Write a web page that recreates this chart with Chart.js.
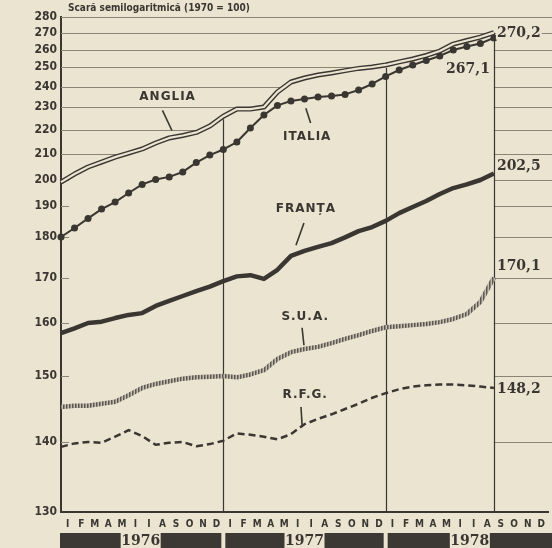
<!DOCTYPE html>
<html><head><meta charset="utf-8">
<script src="https://cdn.jsdelivr.net/npm/chart.js"></script>
<style>html,body{margin:0;padding:0;background:#ebe4d1;}canvas{display:block;}</style>
</head><body>
<canvas id="c" width="552" height="548"></canvas>
<script>
// ---- data ----
const MONTH_LABELS = ['I','F','M','A','M','I','I','A','S','O','N','D'];
const YEARS = ['1976','1977','1978'];
const Y_TICKS = [130,140,150,160,170,180,190,200,210,220,230,240,250,260,270,280];
// relative height of each tick on the hand-drawn semilog axis (0 = bottom, 1 = top)
const AXIS_FRAC = [0,0.1414,0.2747,0.3818,0.4727,0.5556,0.6182,0.6707,0.7232,0.7717,0.8182,0.8586,0.8990,0.9333,0.9677,1];
const TITLE = 'Scară semilogaritmică (1970 = 100)';

// monthly values, Jan 1976 (index 0) .. Aug 1978 (index 32)
const ANGLIA = [199.2,202.3,205.0,206.9,208.8,210.4,212.1,214.6,216.7,217.7,219.0,221.7,226.0,229.1,229.1,230.0,237.5,242.5,244.5,246.0,247.0,248.2,249.3,250.0,251.2,253.0,254.7,256.8,259.4,263.5,265.6,267.6,270.2];
const ITALIA = [180.0,182.9,186.0,189.0,191.5,195.0,198.3,200.2,201.2,203.1,206.7,209.6,211.9,215.0,220.9,226.5,230.8,233.0,234.0,235.0,235.5,236.3,238.5,241.5,245.3,248.5,251.2,253.8,256.5,260.0,262.1,263.8,267.1];
const FRANTA = [158.1,159.0,160.0,160.3,161.1,161.8,162.2,163.8,164.9,166.0,167.1,168.1,169.3,170.4,170.7,169.8,172.0,175.4,176.6,177.6,178.5,179.9,181.9,183.2,185.2,187.7,189.7,191.9,194.6,196.9,198.3,200.0,202.5];
const SUA = [145.3,145.5,145.5,145.8,146.1,147.1,148.2,148.8,149.2,149.6,149.8,149.9,150.0,149.8,150.3,151.1,153.2,154.5,155.1,155.5,156.2,157.0,157.7,158.5,159.2,159.4,159.6,159.8,160.2,160.9,162.0,164.7,170.1];
const RFG = [139.3,139.8,140.0,139.9,140.8,141.8,140.9,139.6,139.9,140.0,139.4,139.7,140.2,141.3,141.1,140.8,140.4,141.2,142.7,143.5,144.2,145.0,145.8,146.7,147.4,148.0,148.4,148.6,148.7,148.7,148.6,148.4,148.2];
const END_LABELS = ['270,2','267,1','202,5','170,1','148,2'];
const SERIES_NAMES = ['ANGLIA','ITALIA','FRANȚA','S.U.A.','R.F.G.'];

// ---- styling ----
const PAPER = '#ebe4d1', INK = '#3a3631', GRID = '#8c8477', BAND = '#3c3935';
const SANS = '"DejaVu Sans Condensed","DejaVu Sans",sans-serif';
const SERIF = '"DejaVu Serif",serif';

function warp(v){
  const n = Y_TICKS.length;
  for (let k = 0; k < n - 1; k++){
    const a = Y_TICKS[k], b = Y_TICKS[k+1];
    if (v <= b || k === n - 2) return AXIS_FRAC[k] + (v - a) / (b - a) * (AXIS_FRAC[k+1] - AXIS_FRAC[k]);
  }
}
const pts = arr => arr.map((v, i) => ({x: i, y: warp(v)}));

const canvas = document.getElementById('c');
const ctx0 = canvas.getContext('2d');
function hatch(){
  const c = document.createElement('canvas'); c.width = 3; c.height = 3;
  const g = c.getContext('2d');
  g.fillStyle = '#c4bdb0'; g.fillRect(0,0,3,3);
  g.fillStyle = '#5c5750'; g.fillRect(0,0,1,3);
  g.fillStyle = '#8e887f'; g.fillRect(1,0,1,3);
  return ctx0.createPattern(c, 'repeat');
}

const LAST = ANGLIA.length - 1;

const gridPlugin = {
  id: 'paperGrid',
  beforeDraw(chart){
    const c = chart.ctx; c.save(); c.fillStyle = PAPER; c.fillRect(0,0,chart.width,chart.height); c.restore();
  },
  beforeDatasetsDraw(chart){
    const c = chart.ctx, a = chart.chartArea, xs = chart.scales.x, ys = chart.scales.y;
    const endX = xs.getPixelForValue(LAST);
    const ang = ANGLIA.map((v,i) => [xs.getPixelForValue(i), ys.getPixelForValue(warp(v))]);
    c.save(); c.strokeStyle = GRID; c.lineWidth = 1;
    const seg = (x0,y0,x1,y1) => { c.beginPath(); c.moveTo(x0,y0); c.lineTo(x1,y1); c.stroke(); };
    Y_TICKS.slice(1).forEach(v => {
      const y = Math.round(ys.getPixelForValue(warp(v))) + 0.5;
      let xe = endX;
      if (ANGLIA[0] >= v) xe = a.left + 8;
      else {
        for (let i = 1; i < ANGLIA.length; i++){
          if (ANGLIA[i] >= v){
            const [x0,y0] = ang[i-1], [x1,y1] = ang[i];
            xe = x0 + (y - y0) / (y1 - y0) * (x1 - x0) - 3; break;
          }
        }
      }
      xe = Math.max(xe, a.left + 8);
      seg(a.left, y, xe, y);
      seg(endX, y, chart.width, y);
    });
    c.strokeStyle = INK; c.lineWidth = 1.2;
    [12, 24, LAST].forEach(m => {
      const x = Math.round(xs.getPixelForValue(m)) + 0.5;
      const yTop = ys.getPixelForValue(warp(ANGLIA[m])) + (m === LAST ? 0 : 3);
      seg(x, yTop, x, a.bottom);
    });
    c.restore();
  },
  afterDraw(chart){
    const c = chart.ctx, a = chart.chartArea, xs = chart.scales.x, ys = chart.scales.y;
    const P = (m, v) => [xs.getPixelForValue(m), ys.getPixelForValue(warp(v))];
    c.save();
    // title
    c.fillStyle = INK; c.font = 'bold 10px ' + SANS; c.textAlign = 'left'; c.textBaseline = 'middle';
    c.fillText(TITLE, 68, 8);
    // series names with pointer strokes
    const notes = [
      {m:7.88, v:235.0, l:[[7.5,228.5],[8.2,219.8]]},
      {m:18.2, v:217.1, l:[[18.1,229.5],[18.45,223.0]]},
      {m:18.1, v:189.2, l:[[17.96,184.5],[17.37,178.0]]},
      {m:18.05, v:161.3, l:[[17.82,159.1],[17.96,155.8]]},
      {m:18.05, v:147.1, l:[[17.74,145.3],[17.82,142.6]]}
    ];
    c.font = 'bold 12px "DejaVu Sans",sans-serif'; c.textAlign = 'center';
    c.letterSpacing = '1px';
    notes.forEach((n, k) => {
      const [x, y] = P(n.m, n.v);
      c.fillText(SERIES_NAMES[k], x, y);
      const [x0,y0] = P(n.l[0][0], n.l[0][1]), [x1,y1] = P(n.l[1][0], n.l[1][1]);
      c.lineWidth = 1.6; c.strokeStyle = INK; c.beginPath(); c.moveTo(x0,y0); c.lineTo(x1,y1); c.stroke();
    });
    c.letterSpacing = '0px';
    // end values
    const ex = xs.getPixelForValue(LAST);
    c.font = 'bold 14px ' + SERIF;
    const ends = [
      [END_LABELS[0], ANGLIA[LAST], 0, 'left'],
      [END_LABELS[1], ITALIA[LAST], 30, 'right'],
      [END_LABELS[2], FRANTA[LAST], -8, 'left'],
      [END_LABELS[3], SUA[LAST], -12, 'left'],
      [END_LABELS[4], RFG[LAST], 0, 'left']
    ];
    ends.forEach(([t, v, dy, al]) => {
      const y = ys.getPixelForValue(warp(v)) + dy;
      c.textAlign = al;
      const x = al === 'left' ? ex + 3 : ex - 4;
      const w = c.measureText(t).width;
      c.fillStyle = PAPER; c.fillRect(al === 'left' ? x - 1 : x - w - 1, y - 7, w + 2, 14);
      c.fillStyle = INK; c.fillText(t, x, y + 1);
    });
    // year bands
    const yb = 533, yh = 15;
    YEARS.forEach((yr, k) => {
      const x0 = xs.getPixelForValue(12*k) + (k ? 2 : -1);
      const x1 = k === YEARS.length - 1 ? chart.width : xs.getPixelForValue(12*(k+1)) - 2;
      c.fillStyle = BAND; c.fillRect(x0, yb, x1 - x0, yh);
      const cx = (x0 + x1) / 2;
      c.fillStyle = PAPER; c.fillRect(cx - 20, yb, 40, yh);
      c.fillStyle = INK; c.font = 'bold 14px ' + SERIF; c.textAlign = 'center'; c.textBaseline = 'middle';
      c.fillText(yr, cx, yb + yh/2 + 1);
    });
    c.restore();
  }
};

new Chart(canvas, {
  type: 'line',
  data: {
    datasets: [
      {data: pts(ANGLIA), borderColor: PAPER, borderWidth: 2.2, pointRadius: 0, order: 0},
      {data: pts(ANGLIA), borderColor: INK, borderWidth: 5, pointRadius: 0, order: 1},
      {data: pts(ITALIA), borderColor: INK, borderWidth: 2, pointRadius: 3.5, pointBackgroundColor: INK, pointBorderWidth: 0, order: 2},
      {data: pts(FRANTA), borderColor: INK, borderWidth: 4.5, pointRadius: 0, order: 3},
      {data: pts(SUA), borderColor: hatch(), borderWidth: 4.5, pointRadius: 0, order: 4},
      {data: pts(RFG), borderColor: INK, borderWidth: 2.5, borderDash: [7,4], pointRadius: 0, order: 5}
    ]
  },
  options: {
    responsive: false, animation: false, devicePixelRatio: 1,
    layout: {padding: {top: 17, right: 2, left: 0, bottom: 0}},
    elements: {line: {tension: 0, borderCapStyle: 'butt', borderJoinStyle: 'round'}},
    datasets: {line: {clip: false}},
    plugins: {legend: {display: false}, tooltip: {enabled: false}},
    scales: {
      x: {
        type: 'linear', min: 0, max: 36,
        grid: {display: false, drawTicks: false},
        border: {display: true, color: INK, width: 2},
        afterBuildTicks: s => { s.ticks = Array.from({length: 36}, (_, i) => ({value: i + 0.5})); },
        afterFit: s => { s.height = 36; },
        ticks: {autoSkip: false, maxRotation: 0, padding: 6, color: INK,
          font: {family: SANS, size: 10, weight: 'bold'},
          callback: (v, i) => MONTH_LABELS[i % 12]}
      },
      y: {
        type: 'linear', min: 0, max: 1,
        grid: {display: false, drawTicks: false},
        border: {display: true, color: INK, width: 2},
        afterBuildTicks: s => { s.ticks = Y_TICKS.map(v => ({value: warp(v)})); },
        afterFit: s => { s.width = 61; },
        ticks: {autoSkip: false, padding: 4, color: INK,
          font: {family: SANS, size: 12, weight: 'bold'},
          callback: (v, i) => String(Y_TICKS[i])}
      }
    }
  },
  plugins: [gridPlugin]
});
</script>
</body></html>
